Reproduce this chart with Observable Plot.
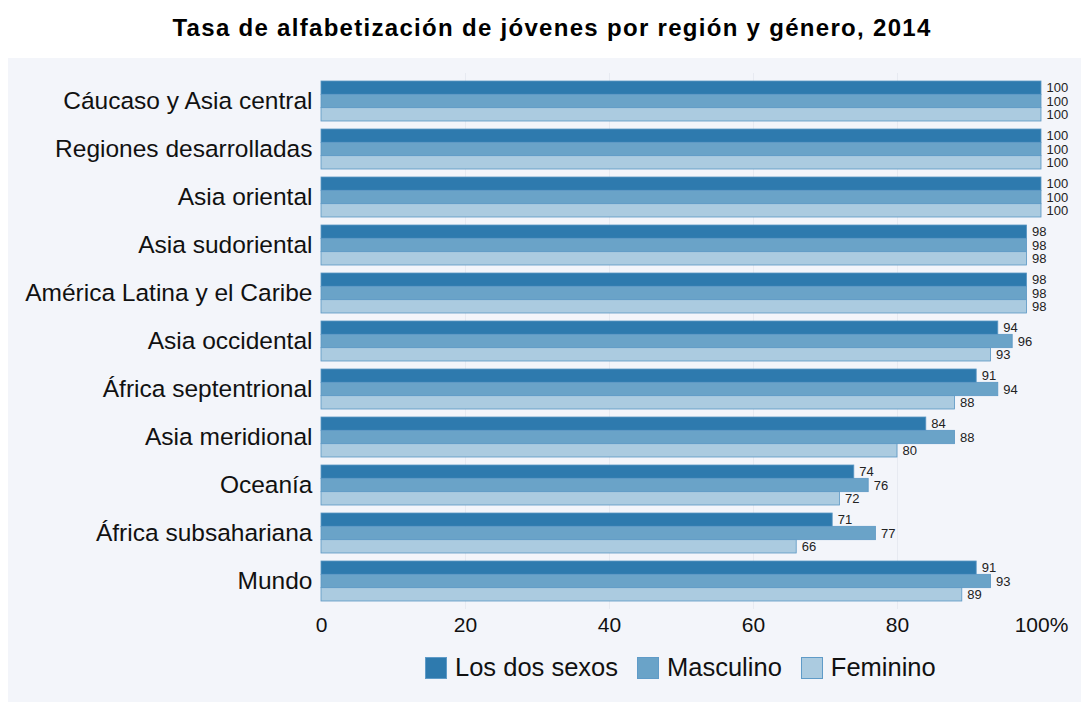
<!DOCTYPE html>
<html>
<head>
<meta charset="utf-8">
<script src="https://cdn.jsdelivr.net/npm/d3@7"></script>
<script src="https://cdn.jsdelivr.net/npm/@observablehq/plot@0.6"></script>
<style>
  body { margin: 0; background: #ffffff; font-family: "Liberation Sans", Arial, sans-serif; overflow: hidden; }
  #title { position: absolute; left: 0; width: 1104px; top: 14px; text-align: center; font-weight: bold; font-size: 24px; letter-spacing: 1.3px; color: #000; }
  #panel { position: absolute; left: 8px; top: 58px; width: 1073px; height: 644px; background: #f3f5fa; }
  #legend { position: absolute; left: 417px; top: 595px; display: flex; align-items: center; font-size: 25.5px; color: #111; }
  .item { display: flex; align-items: center; margin-right: 19px; }
  .sw { width: 22px; height: 22px; margin-right: 8px; box-sizing: border-box; border: 1px solid #5f9bc8; }
</style>
</head>
<body>
<div id="title">Tasa de alfabetización de jóvenes por región y género, 2014</div>
<div id="panel"><div id="chart"></div><div id="legend"></div></div>
<script>
const regions = ["Cáucaso y Asia central", "Regiones desarrolladas", "Asia oriental", "Asia sudoriental", "América Latina y el Caribe", "Asia occidental", "África septentrional", "Asia meridional", "Oceanía", "África subsahariana", "Mundo"];
const series = ["Los dos sexos", "Masculino", "Feminino"];
const ambos = [100, 100, 100, 98, 98, 94, 91, 84, 74, 71, 91];
const masculino = [100, 100, 100, 98, 98, 96, 94, 88, 76, 77, 93];
const femenino = [100, 100, 100, 98, 98, 93, 88, 80, 72, 66, 89];
const colors = ["#2e7aae", "#6aa3c8", "#abcbe0"];
const xTicks = [0, 20, 40, 60, 80, 100];
const xTickLabels = ["0", "20", "40", "60", "80", "100%"];

const valuesBySeries = [ambos, masculino, femenino];

// layout
const W = 1073, H = 591, mt = 15, mb = 40, ml = 313, mr = 40;
const pad = 1 / 6;
const step = (H - mt - mb) / (regions.length + pad);
const bw = step * (1 - pad);
const sub = bw / series.length;

const marks = [
  Plot.ruleX(xTicks.slice(1, 5), {stroke: "#e7eaf1", strokeWidth: 1})
];
series.forEach((s, j) => {
  const rows = regions.map((r, i) => ({region: r, serie: s, value: valuesBySeries[j][i]}));
  marks.push(Plot.barX(rows, {y: "region", x: "value", fill: colors[j], stroke: "#5a97c4", strokeWidth: 0.8,
    insetTop: j * sub, insetBottom: (series.length - 1 - j) * sub}));
  marks.push(Plot.text(rows, {y: "region", x: "value", text: d => String(d.value), dx: 5, dy: (j - 1) * sub,
    textAnchor: "start", fontSize: 13, fill: "#222"}));
});
marks.push(Plot.axisY({tickSize: 0, tickPadding: 9, fontSize: 24.5, fill: "#111", label: null}));
marks.push(Plot.axisX({ticks: xTicks, tickFormat: d => xTickLabels[xTicks.indexOf(d)], tickSize: 0, tickPadding: 8, fontSize: 21, fill: "#111", label: null}));

const chart = Plot.plot({
  width: W,
  height: H,
  marginLeft: ml,
  marginRight: mr,
  marginTop: mt,
  marginBottom: mb,
  style: {background: "transparent", fontFamily: "Liberation Sans, Arial, sans-serif", color: "#111"},
  x: {domain: [0, 100]},
  y: {domain: regions, paddingInner: pad, paddingOuter: pad, round: false},
  marks
});
document.getElementById("chart").appendChild(chart);

const legend = document.getElementById("legend");
series.forEach((s, j) => {
  const it = document.createElement("div");
  it.className = "item";
  const sw = document.createElement("div");
  sw.className = "sw";
  sw.style.background = colors[j];
  const t = document.createElement("span");
  t.textContent = s;
  it.appendChild(sw); it.appendChild(t);
  legend.appendChild(it);
});
</script>
</body>
</html>
